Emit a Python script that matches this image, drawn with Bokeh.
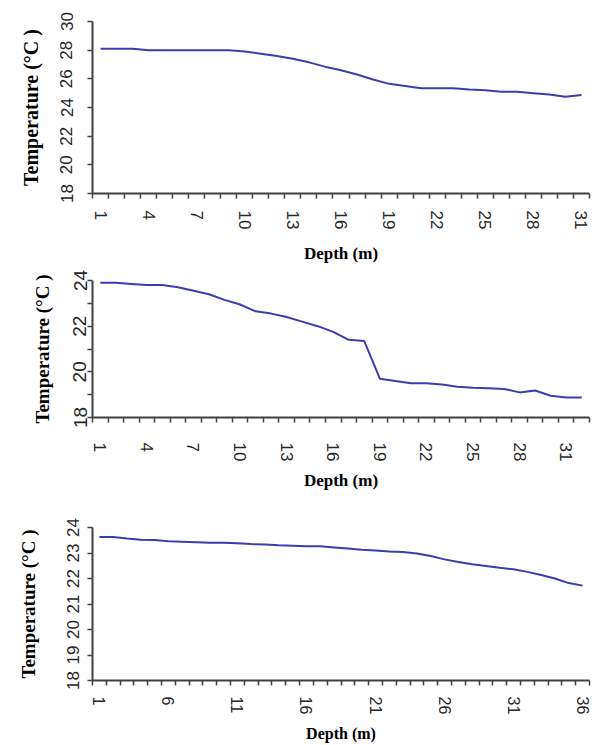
from bokeh.plotting import figure
from bokeh.models import Range1d, FixedTicker
from bokeh.layouts import column
from bokeh.embed import file_html
from bokeh.resources import INLINE

# ---------------- data ----------------
depth_a = list(range(1, 32))
temp_a = [28.1, 28.1, 28.1, 28.0, 28.0, 28.0, 28.0, 28.0, 28.0, 27.9,
          27.75, 27.6, 27.4, 27.15, 26.85, 26.6, 26.3, 25.95, 25.65, 25.5,
          25.35, 25.35, 25.35, 25.25, 25.2, 25.1, 25.1, 25.0, 24.9, 24.75,
          24.88]
xlabels_a = [1, 4, 7, 10, 13, 16, 19, 22, 25, 28, 31]
ylabels_a = [18, 20, 22, 24, 26, 28, 30]

depth_b = list(range(1, 33))
temp_b = [23.9, 23.9, 23.85, 23.8, 23.8, 23.7, 23.55, 23.4, 23.15, 22.95,
          22.65, 22.55, 22.4, 22.2, 22.0, 21.75, 21.4, 21.35, 19.7, 19.6,
          19.5, 19.5, 19.45, 19.35, 19.3, 19.28, 19.25, 19.1, 19.18, 18.95,
          18.88, 18.88]
xlabels_b = [1, 4, 7, 10, 13, 16, 19, 22, 25, 28, 31]
ylabels_b = [18, 20, 22, 24]
yminor_b = [19, 21, 23]

depth_c = list(range(1, 37))
temp_c = [23.63, 23.63, 23.57, 23.52, 23.51, 23.46, 23.44, 23.42, 23.4, 23.4,
          23.38, 23.35, 23.33, 23.3, 23.28, 23.26, 23.26, 23.22, 23.18, 23.13,
          23.1, 23.06, 23.04, 22.98, 22.88, 22.75, 22.65, 22.56, 22.49, 22.42,
          22.36, 22.26, 22.14, 22.0, 21.82, 21.72]
xlabels_c = [1, 6, 11, 16, 21, 26, 31, 36]
ylabels_c = [18, 19, 20, 21, 22, 23, 24]

ylo_a, yhi_a = 18, 30
ylo_b, yhi_b = 18, 24
ylo_c, yhi_c = 18, 24

YTITLE = "Temperature (°C )"
XTITLE = "Depth (m)"

LINE_COLOR = "#3C3CAE"
AXIS_COLOR = "#404040"
TICK_TEXT = "#262626"
SANS = "Liberation Sans"
SERIF = "Liberation Serif"


def panel(depths, temps, xlabels, ylabels, yminor, ylo, yhi, height,
          b_top, b_bottom, b_left, b_right,
          xfont, xstand, xtitle_font, xtitle_stand,
          yfont, ystand, ytitle_font, ytitle_stand):
    p = figure(width=600, height=height, output_backend="svg",
               toolbar_location=None, tools="",
               x_range=Range1d(depths[0] - 0.5, depths[-1] + 0.5),
               y_range=Range1d(ylo, yhi),
               min_border_top=b_top, min_border_bottom=b_bottom,
               min_border_left=b_left, min_border_right=b_right)
    p.outline_line_color = None
    p.background_fill_color = "white"
    p.border_fill_color = "white"
    p.xgrid.visible = False
    p.ygrid.visible = False

    p.line(depths, temps, line_color=LINE_COLOR, line_width=2)

    bounds = [d - 0.5 for d in depths] + [depths[-1] + 0.5]
    xa = p.xaxis[0]
    xa.ticker = FixedTicker(ticks=xlabels, minor_ticks=bounds)
    xa.major_tick_out = 0
    xa.major_tick_in = 0
    xa.minor_tick_out = 5
    xa.minor_tick_in = 0
    xa.minor_tick_line_color = AXIS_COLOR
    xa.minor_tick_line_width = 1.5
    xa.axis_line_color = AXIS_COLOR
    xa.axis_line_width = 2
    xa.major_label_orientation = "vertical"
    xa.major_label_text_font = SANS
    xa.major_label_text_font_size = f"{xfont}px"
    xa.major_label_text_color = TICK_TEXT
    xa.major_label_standoff = xstand
    xa.axis_label = XTITLE
    xa.axis_label_text_font = SERIF
    xa.axis_label_text_font_style = "bold"
    xa.axis_label_text_font_size = f"{xtitle_font}px"
    xa.axis_label_text_color = "black"
    xa.axis_label_standoff = xtitle_stand

    ya = p.yaxis[0]
    ya.ticker = FixedTicker(ticks=ylabels, minor_ticks=yminor)
    ya.major_tick_out = 5
    ya.major_tick_in = 0
    ya.major_tick_line_color = AXIS_COLOR
    ya.major_tick_line_width = 1.5
    ya.minor_tick_out = 5
    ya.minor_tick_in = 0
    ya.minor_tick_line_color = AXIS_COLOR
    ya.minor_tick_line_width = 1.5
    ya.axis_line_color = AXIS_COLOR
    ya.axis_line_width = 2
    ya.major_label_orientation = "vertical"
    ya.major_label_text_font = SANS
    ya.major_label_text_font_size = f"{yfont}px"
    ya.major_label_text_color = TICK_TEXT
    ya.major_label_standoff = ystand
    ya.axis_label = YTITLE
    ya.axis_label_text_font = SERIF
    ya.axis_label_text_font_style = "bold"
    ya.axis_label_text_font_size = f"{ytitle_font}px"
    ya.axis_label_text_color = "black"
    ya.axis_label_standoff = ytitle_stand
    return p


p1 = panel(depth_a, temp_a, xlabels_a, ylabels_a, [], ylo_a, yhi_a, 268,
           21, 75, 92, 11,
           17, 12, 17, 12,
           17, 15, 20, 16)
p2 = panel(depth_b, temp_b, xlabels_b, ylabels_b, yminor_b, ylo_b, yhi_b, 232,
           12, 83, 83, 9,
           17, 20, 17, 7,
           19, 1, 19, 18)
p3 = panel(depth_c, temp_c, xlabels_c, ylabels_c, [], ylo_c, yhi_c, 245,
           27, 57, 85, 11,
           16, 11, 16, 8,
           17, 9, 19, 25)

layout = column(p1, p2, p3, spacing=0)

with open("out.html", "w") as f:
    f.write(file_html(layout, INLINE))
